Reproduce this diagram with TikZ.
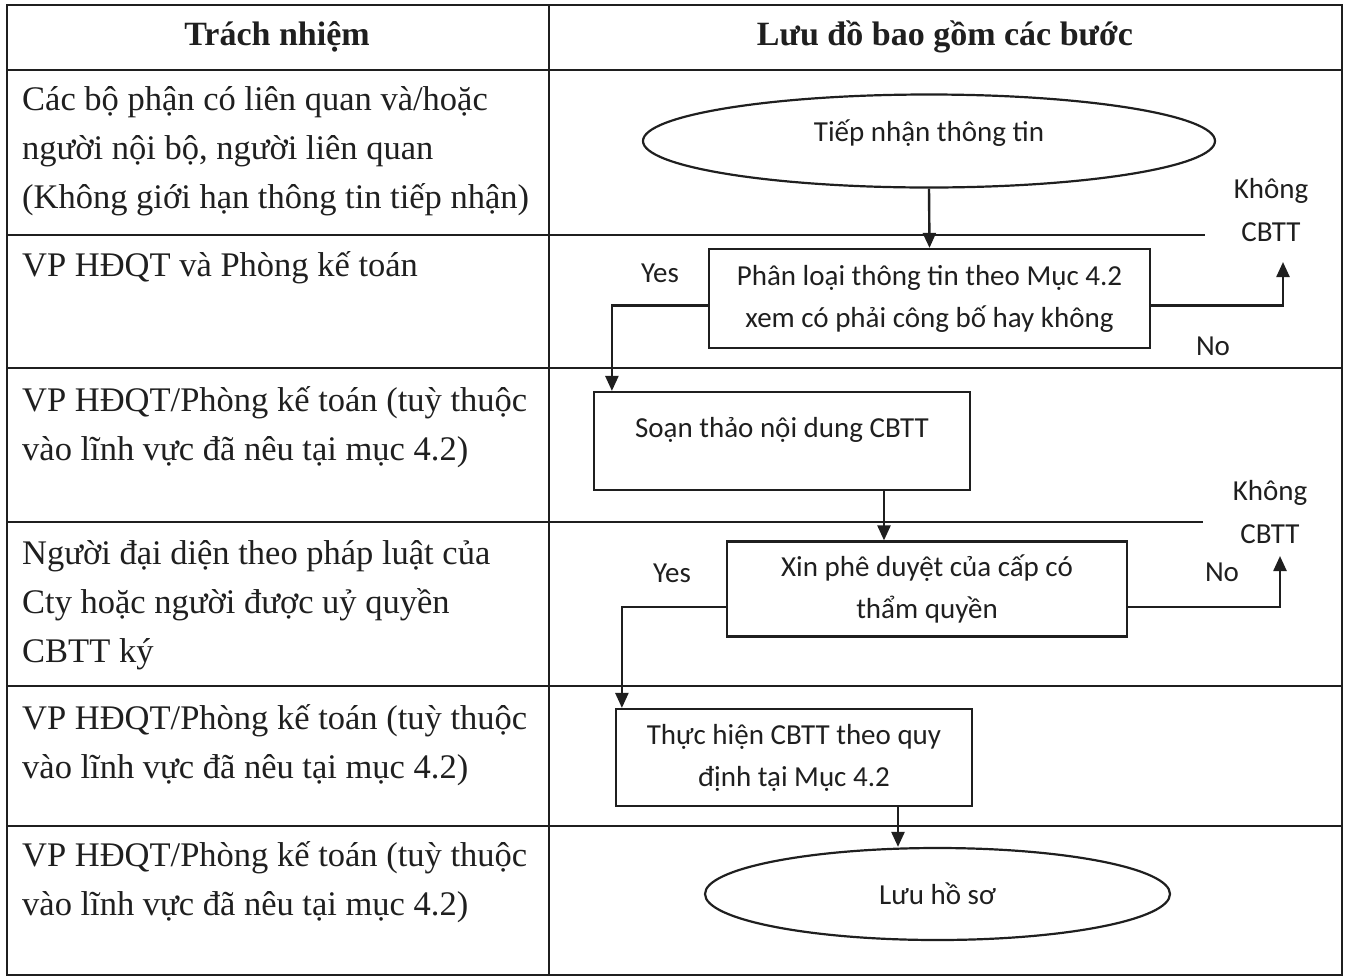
\documentclass[tikz,border=0pt]{standalone}
\usepackage{fontspec}
\setmainfont{Liberation Serif}
\newfontfamily\flowfont{Carlito}
\usetikzlibrary{shapes.geometric,arrows.meta}
\definecolor{ink}{rgb}{0.12,0.12,0.12}

\begin{document}
\begin{tikzpicture}[x=1pt,y=-1pt,
        tableline/.style={draw=ink, line width=1.8pt},
        head/.style={text=ink, font=\bfseries\fontsize{34}{40}\selectfont},
        cell/.style={anchor=base west, inner sep=0pt, align=left, text=ink, font=\fontsize{34.5}{49}\selectfont},
        flowbox/.style={draw=ink, line width=2.2pt, rectangle, align=center, text=ink, font=\flowfont\fontsize{29}{42}\selectfont},
        terminal/.style={flowbox, ellipse, inner sep=0pt},
        note/.style={text=ink, align=center, font=\flowfont\fontsize{29}{43}\selectfont},
        flow/.style={draw=ink, line width=2.4pt, -{Triangle[length=15pt,width=13pt]}}]
        \useasboundingbox (0,0) rectangle (1347,978);
        % table frame
        \draw[tableline] (7,5) rectangle (1342,975);
        \draw[tableline] (549,5) -- (549,975);
        \draw[tableline] (7,70) -- (1342,70);
        \draw[tableline] (7,235) -- (1205,235);
        \draw[tableline] (7,368) -- (1342,368);
        \draw[tableline] (7,522) -- (1203,522);
        \draw[tableline] (7,686) -- (1342,686);
        \draw[tableline] (7,826) -- (1342,826);
        % header
        \node[head] (hleft) at (277,37) {Trách nhiệm};
        \node[head] (hright) at (945,37) {Lưu đồ bao gồm các bước};
        % responsibility column (placed by the baseline of the last line)
        \node[cell] (r1) at (22,208) {Các bộ phận có liên quan và/hoặc\\người nội bộ, người liên quan\\(Không giới hạn thông tin tiếp nhận)};
        \node[cell] (r2) at (22,276) {VP HĐQT và Phòng kế toán};
        \node[cell] (r3) at (22,460) {VP HĐQT/Phòng kế toán (tuỳ thuộc\\vào lĩnh vực đã nêu tại mục 4.2)};
        \node[cell] (r4) at (22,662) {Người đại diện theo pháp luật của\\Cty hoặc người được uỷ quyền\\CBTT ký};
        \node[cell] (r5) at (22,778) {VP HĐQT/Phòng kế toán (tuỳ thuộc\\vào lĩnh vực đã nêu tại mục 4.2)};
        \node[cell] (r6) at (22,915) {VP HĐQT/Phòng kế toán (tuỳ thuộc\\vào lĩnh vực đã nêu tại mục 4.2)};
        % flow steps
        \node[terminal, minimum width=572, minimum height=93, text depth=20pt] (tiep) at (929,141) {Tiếp nhận thông tin};
        \node[flowbox, minimum width=441, minimum height=99] (phanloai) at (929.5,298.5) {Phân loại thông tin theo Mục 4.2\\xem có phải công bố hay không};
        \node[flowbox, minimum width=376, minimum height=98, text depth=28pt] (soan) at (782,441) {Soạn thảo nội dung CBTT};
        \node[flowbox, minimum width=400, minimum height=95] (xin) at (927,589) {Xin phê duyệt của cấp có\\thẩm quyền};
        \node[flowbox, minimum width=356, minimum height=97] (thuchien) at (794,757.5) {Thực hiện CBTT theo quy\\định tại Mục 4.2};
        \node[terminal, minimum width=465, minimum height=92] (luu) at (937.5,894) {Lưu hồ sơ};
        % branch labels
        \node[note] (yes1) at (660,273) {Yes};
        \node[note] (no1) at (1213,346) {No};
        \node[note] (skip1) at (1271,210) {Không\\CBTT};
        \node[note] (yes2) at (672,573) {Yes};
        \node[note] (no2) at (1222,572) {No};
        \node[note] (skip2) at (1270,512) {Không\\CBTT};
        \coordinate (up1) at (1283,262);
        \coordinate (up2) at (1280,556);
        % connectors
        \draw[flow] (tiep.south) -- (phanloai.north);
        \draw[flow] ([yshift=-7pt]phanloai.west) -| ([xshift=19pt]soan.north west);
        \draw[flow] ([yshift=-7pt]phanloai.east) -| (up1);
        \draw[flow] ([xshift=102pt]soan.south) -- ([xshift=102pt]soan.south |- xin.north);
        \draw[flow] ([yshift=-18pt]xin.west) -| ([xshift=7pt]thuchien.north west);
        \draw[flow] ([yshift=-18pt]xin.east) -| (up2);
        \draw[flow] ([xshift=104pt]thuchien.south) -- ([xshift=104pt]thuchien.south |- luu.north);
    \end{tikzpicture}
\end{document}
